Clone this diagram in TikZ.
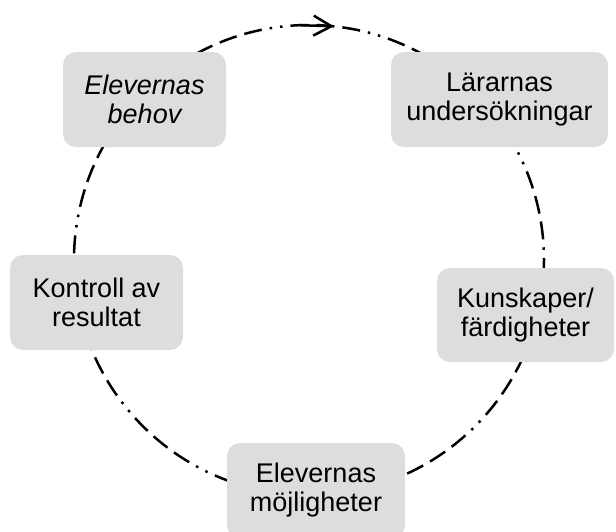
\documentclass[tikz,border=0pt]{standalone}
\usepackage{fontspec}
\setmainfont{Liberation Sans}
\usetikzlibrary{arrows.meta}
\definecolor{boxgray}{RGB}{221,221,221}
\tikzset{
  stage/.style={fill=boxgray, rounded corners=13pt, inner sep=0pt, align=center,
    font=\fontsize{27}{29}\selectfont, text=black},
  cycleline/.style={line width=2.5pt, dash pattern=on 18pt off 8pt on 18pt off 8pt on 18pt off 8pt on 2.5pt off 8pt on 2.5pt off 8pt},
  arrowline/.style={line width=2.5pt, -{Straight Barb[length=18pt,width=20pt]}}
}
\begin{document}
\begin{tikzpicture}[x=1pt,y=-1pt]
\useasboundingbox (0,0) rectangle (616,531);
\coordinate (o) at (309,260);
\draw[cycleline] (o) circle[radius=235];
\coordinate (a1) at (300,25.2);
\coordinate (a2) at (334,26.3);
\draw[arrowline] (a1) -- (a2);
\node[stage, minimum width=163pt, minimum height=95pt] (behov) at (144.5,99.5) {\itshape Elevernas\\\itshape behov};
\node[stage, minimum width=217pt, minimum height=95pt] (larare) at (499.5,99.5) {Lärarnas\\undersökningar};
\node[stage, minimum width=177pt, minimum height=94pt] (kunskap) at (525.5,315) {Kunskaper/\\färdigheter};
\node[stage, minimum width=178pt, minimum height=95pt] (mojlig) at (316,490.5) {Elevernas\\möjligheter};
\node[stage, minimum width=173pt, minimum height=95pt] (kontroll) at (96.5,302.5) {Kontroll av\\resultat};
\end{tikzpicture}
\end{document}
